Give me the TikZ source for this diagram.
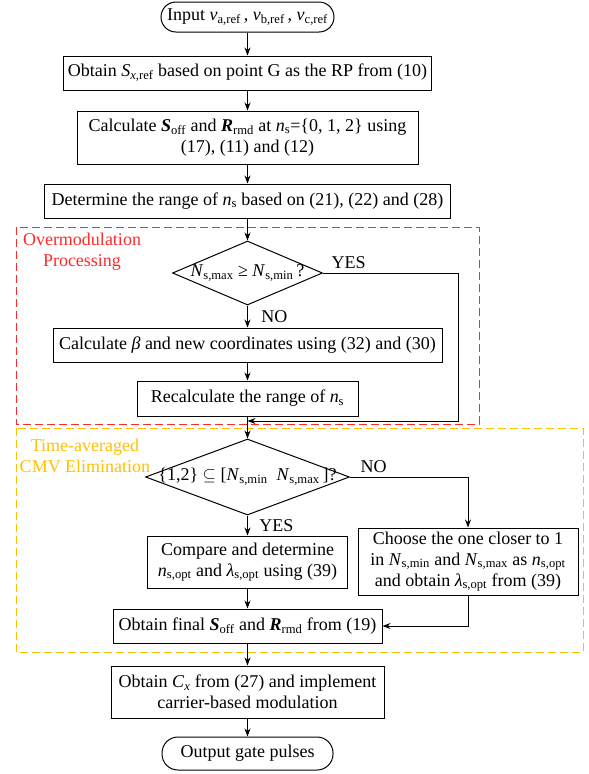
\documentclass[tikz,border=0pt]{standalone}
\usepackage{fontspec}
\setmainfont{Liberation Serif}
\usepackage{tikz}
\usetikzlibrary{arrows.meta,calc,positioning,shapes.geometric}
\definecolor{fcRed}{HTML}{FF2A2A}
\definecolor{fcAmber}{HTML}{FFC000}
\newcommand{\vsub}[2]{\textit{#1}\textsubscript{#2}}
\newcommand{\bsub}[2]{\textbf{\textit{#1}}\textsubscript{#2}}

\begin{document}
\begin{tikzpicture}[x=1pt, y=-1pt, font=\fontsize{18}{21}\selectfont,
  procbox/.style={draw, line width=1pt, align=center, inner sep=2pt},
  termbox/.style={draw, line width=1pt, rounded corners=15pt, inner sep=2pt},
  decide/.style={draw, line width=1pt, diamond, inner sep=0pt},
  flow/.style={-{Stealth[length=8pt,width=6pt]}, line width=1pt},
  frame/.style={dash pattern=on 8pt off 4pt, line width=1pt}]
  \useasboundingbox (0,0) rectangle (589,774);
  % dashed groups
  \draw[frame, fcRed] (16,227) rectangle (479,424);
  \draw[frame, fcAmber] (16,428) rectangle (583,652);
  \node[text=fcRed, align=center] (ovlab) at (82,252) {Overmodulation\\Processing};
  \node[text=fcAmber, align=center] (cmvlab) at (85,456) {Time-averaged\\CMV Elimination};

  \node[termbox, minimum width=173pt, minimum height=30pt] (start) at (247.5,17) {Input \vsub{v}{a,ref}\,, \vsub{v}{b,ref}\,, \vsub{v}{c,ref}};
  \node[procbox, minimum width=368pt, minimum height=34pt] (sref) at (247.5,73) {Obtain \vsub{S}{\textit{x},ref} based on point G as the RP from (10)};
  \node[procbox, minimum width=341pt, minimum height=53pt] (soff) at (247.5,137.5) {Calculate \bsub{S}{off} and \bsub{R}{rmd} at \vsub{n}{s}=\{0, 1, 2\} using\\(17), (11) and (12)};
  \node[procbox, minimum width=406pt, minimum height=34pt] (range) at (247.5,201) {Determine the range of \vsub{n}{s} based on (21), (22) and (28)};
  \node[decide, minimum width=150pt, minimum height=64pt] (ovchk) at (247.5,273) {\makebox[0pt]{\vsub{N}{s,max} ≥ \vsub{N}{s,min}\,?}};
  \node[procbox, minimum width=389pt, minimum height=34pt] (beta) at (247.5,345) {Calculate \textit{β} and new coordinates using (32) and (30)};
  \node[procbox, minimum width=221pt, minimum height=35pt] (rerange) at (247.5,398.5) {Recalculate the range of \vsub{n}{s}};
  \coordinate (join) at (247.5,421);
  \coordinate (yesturn) at (458,273);
  \node[decide, minimum width=204pt, minimum height=76pt] (cmvchk) at (247.5,477) {\makebox[0pt]{\{1,2\} $\subseteq$ [\vsub{N}{s,min}\ \ \vsub{N}{s,max}\,]?}};
  \node[procbox, minimum width=200pt, minimum height=52pt] (cmp) at (247.5,562) {Compare and determine\\\vsub{n}{s,opt} and \vsub{λ}{s,opt} using (39)};
  \node[procbox, minimum width=220pt, minimum height=67pt] (choose) at (468,561.5) {Choose the one closer to 1\\in \vsub{N}{s,min} and \vsub{N}{s,max} as \vsub{n}{s,opt}\\and obtain \vsub{λ}{s,opt} from (39)};
  \node[procbox, minimum width=269pt, minimum height=34pt] (final) at (247.5,626) {Obtain final \bsub{S}{off} and \bsub{R}{rmd} from (19)};
  \node[procbox, minimum width=273pt, minimum height=52pt] (carrier) at (247.5,692) {Obtain \vsub{C}{\textit{x}} from (27) and implement\\carrier-based modulation};
  \node[termbox, minimum width=171pt, minimum height=33pt, rounded corners=16pt] (stop) at (247.5,753.5) {Output gate pulses};

  \draw[flow] (start) -- (sref);
  \draw[flow] (sref) -- (soff);
  \draw[flow] (soff) -- (range);
  \draw[flow] (range) -- (ovchk);
  \draw[flow] (ovchk) -- node[right=10pt] {NO} (beta);
  \draw[flow] (ovchk.east) -- node[above, pos=0.19] {YES} (yesturn) |- (join);
  \draw[flow] (beta) -- (rerange);
  \draw[flow] (rerange) -- (cmvchk);
  \draw[flow] (cmvchk) -- node[right=8pt] {YES} (cmp);
  \draw[flow] (cmvchk.east) -| node[above, pos=0.1] {NO} (choose.north);
  \draw[flow] (cmp) -- (final);
  \draw[flow] (choose.south) |- (final.east);
  \draw[flow] (final) -- (carrier);
  \draw[flow] (carrier) -- (stop);
\end{tikzpicture}
\end{document}
